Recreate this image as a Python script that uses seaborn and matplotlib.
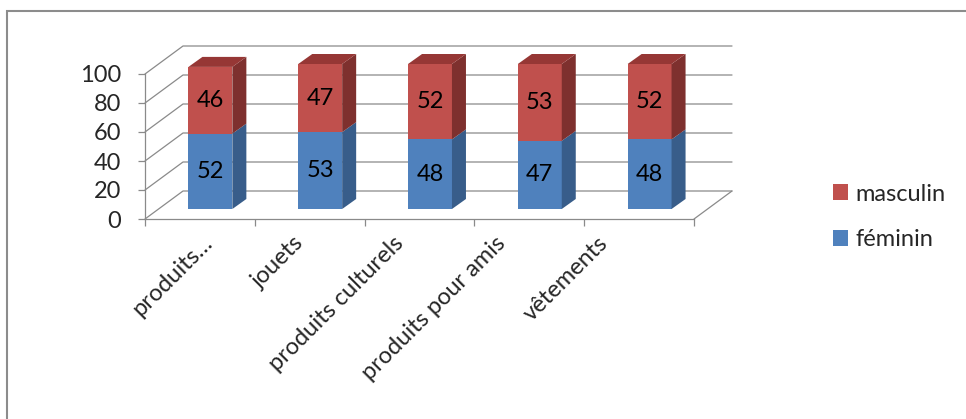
import numpy as np
import pandas as pd
import seaborn as sns
import matplotlib.pyplot as plt
from matplotlib.patches import Polygon, Rectangle

# Purchases by gender, in percent
categories = ["produits…", "jouets", "produits culturels", "produits pour amis", "vêtements"]
feminin = [52, 53, 48, 47, 48]
masculin = [46, 47, 52, 53, 52]
yticks = [0, 20, 40, 60, 80, 100]

BLUE, BLUE_SIDE = "#4F81BD", "#385D8A"
RED, RED_SIDE, RED_TOP = "#C0504D", "#7E302E", "#963735"
GRID = "#8A8A8A"

W, H = 966, 419
sns.set_theme(style="white")
plt.rcParams["font.family"] = ["Lato", "DejaVu Sans"]
FS = 17

fig = plt.figure(figsize=(W / 100, H / 100), dpi=100)

# front plane of the pseudo-3D box, in pixels from the top-left corner
X0, X1 = 145, 694
Y0, Y100 = 219, 74
ax = fig.add_axes([X0 / W, 1 - Y0 / H, (X1 - X0) / W, (Y0 - Y100) / H])
ax.patch.set_alpha(0)

n = len(categories)
px_x = (X1 - X0) / n        # pixels per category slot
px_y = (Y0 - Y100) / 100    # pixels per percent


def off(dx_px, dy_px):
    """Pixel offset (right, up) expressed in data units."""
    return dx_px / px_x, dy_px / px_y


wall_dx, wall_dy = off(38, 28)      # depth of the box
front_dx, front_dy = off(10.5, 10)  # bars sit a little behind the front plane
side_dx, side_dy = off(14, 10)      # depth of each bar

df = pd.DataFrame({"catégorie": categories, "féminin": feminin, "masculin": masculin})

sns.barplot(data=df, x="catégorie", y="féminin", color=BLUE, saturation=1,
            width=0.4, errorbar=None, label="féminin", ax=ax, zorder=3, linewidth=0)
sns.barplot(data=df, x="catégorie", y="masculin", bottom=np.array(feminin), color=RED,
            saturation=1, width=0.4, errorbar=None, label="masculin", ax=ax, zorder=3,
            linewidth=0)

lo, hi = -0.5, n - 0.5
ax.set_xlim(lo, hi)
ax.set_ylim(0, 100)

# back wall, side wall and floor lines
for y in yticks:
    ax.plot([lo, lo + wall_dx, hi + wall_dx], [y, y + wall_dy, y + wall_dy],
            color=GRID, lw=0.9, zorder=1, clip_on=False)
ax.plot([hi, hi + wall_dx], [0, wall_dy], color=GRID, lw=0.9, zorder=1, clip_on=False)

# give every bar segment its side and top faces, plus its value label
bar_patches = list(ax.patches)
side_colors = [BLUE_SIDE] * n + [RED_SIDE] * n
values = feminin + masculin
for k, p in enumerate(bar_patches):
    x, y, w, h = p.get_x(), p.get_y(), p.get_width(), p.get_height()
    x += front_dx
    y += front_dy
    p.set_x(x)
    p.set_y(y)
    xr, yt = x + w, y + h
    ax.add_patch(Polygon([(xr, y), (xr, yt), (xr + side_dx, yt + side_dy), (xr + side_dx, y + side_dy)],
                         closed=True, facecolor=side_colors[k], edgecolor="none",
                         zorder=3, clip_on=False))
    if k >= n:
        ax.add_patch(Polygon([(x, yt), (xr, yt), (xr + side_dx, yt + side_dy), (x + side_dx, yt + side_dy)],
                             closed=True, facecolor=RED_TOP, edgecolor="none",
                             zorder=3, clip_on=False))
    p.set_clip_on(False)
    ax.text(x + w / 2, y + h / 2, f"{values[k]}", ha="center", va="center",
            fontsize=FS, color="black", zorder=4)

# axes
for s in ["top", "right"]:
    ax.spines[s].set_visible(False)
for s in ["left", "bottom"]:
    ax.spines[s].set_color(GRID)
    ax.spines[s].set_linewidth(0.9)

ax.set_yticks(yticks)
ax.set_yticklabels([str(v) for v in yticks], fontsize=FS)
ax.tick_params(axis="y", left=True, length=5, width=0.9, color=GRID, pad=12)

ax.set_xticks(np.arange(lo, hi + 0.01, 1.0))
ax.set_xticklabels([])
ax.tick_params(axis="x", which="major", bottom=True, length=5, width=0.9, color=GRID)

label_px = [209, 300, 400, 502, 605]
ax.set_xticks([(v - X0) / px_x - 0.5 for v in label_px], minor=True)
ax.set_xticklabels(categories, minor=True, rotation=45, ha="right",
                   rotation_mode="anchor", va="center", fontsize=FS)
ax.tick_params(axis="x", which="minor", bottom=True, length=0, pad=15)
ax.set_xlabel("")
ax.set_ylabel("")

handles, labels = ax.get_legend_handles_labels()
ax.legend(handles[::-1], labels[::-1], loc="center left",
          bbox_to_anchor=(833 / W, 1 - 217 / H), bbox_transform=fig.transFigure,
          frameon=False, fontsize=FS, handlelength=0.65, handleheight=0.65,
          handletextpad=0.3, labelspacing=1.05, borderpad=0, borderaxespad=0)

# chart frame
fig.patches.append(Rectangle((7 / W, -0.1), 1.2, 1 - 11 / H + 0.1, transform=fig.transFigure,
                             fill=False, edgecolor="#8C8C8C", lw=1.5))

fig.savefig("out.png", dpi=100)
